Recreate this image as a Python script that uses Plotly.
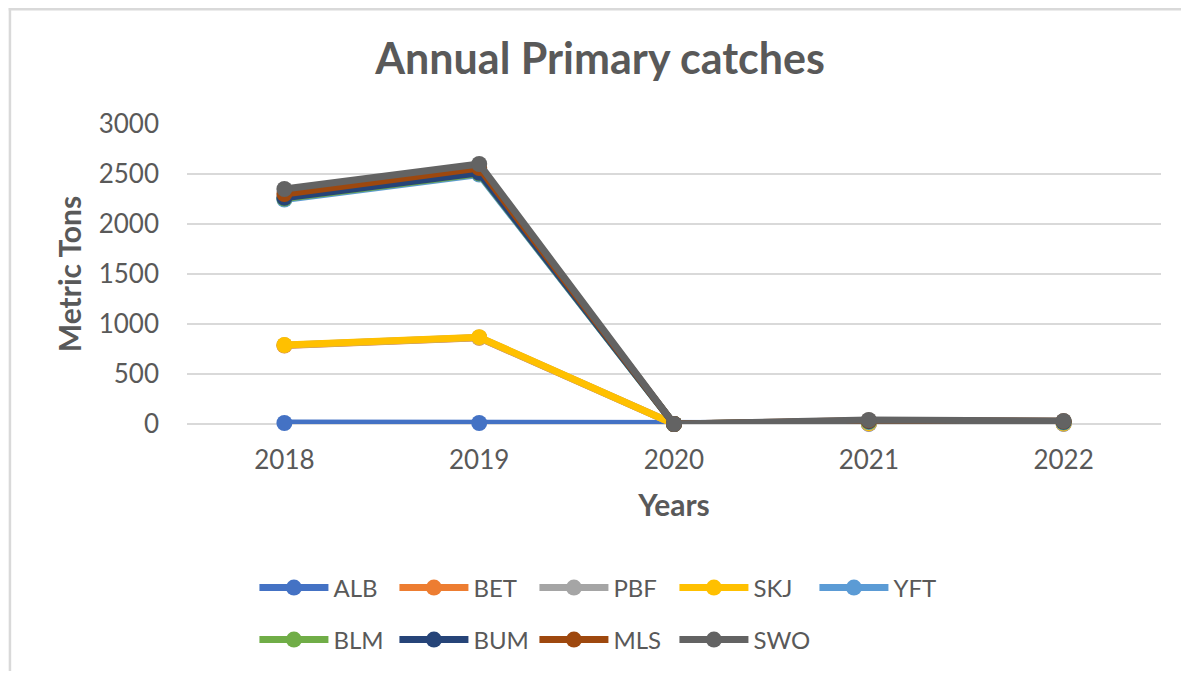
import plotly.graph_objects as go

years = ["2018", "2019", "2020", "2021", "2022"]
series_names = ["ALB", "BET", "PBF", "SKJ", "YFT", "BLM", "BUM", "MLS", "SWO"]
ALB = [10, 10, 0, 2, 2]
BET = [785, 862, 0, 5, 4]
PBF = [788, 865, 0, 5, 4]
SKJ = [790, 868, 0, 8, 6]
YFT = [2245, 2495, 0, 20, 15]
BLM = [2255, 2505, 0, 25, 20]
BUM = [2262, 2512, 0, 28, 22]
MLS = [2300, 2560, 0, 35, 28]
SWO = [2350, 2600, 0, 40, 30]
values = [ALB, BET, PBF, SKJ, YFT, BLM, BUM, MLS, SWO]
colors = ["#4472C4", "#ED7D31", "#A5A5A5", "#FFC000", "#5B9BD5",
          "#70AD47", "#264478", "#9E480E", "#636363"]

FONT = "Lato"
GRAY = "#595959"

fig = go.Figure()
for i, (name, vals, col) in enumerate(zip(series_names, values, colors)):
    fig.add_trace(go.Scatter(
        x=years, y=vals, name=name, mode="lines+markers",
        line=dict(color=col, width=7),
        marker=dict(color=col, size=16),
        cliponaxis=False,
        legend="legend" if i < 5 else "legend2",
    ))

# page has an 8px body margin; keep the figure inside the viewport (no scrollbars)
OFF = 8
VW, VH = 1189, 679
W, H = VW - 2 * OFF, VH - 2 * OFF
plot_left, plot_right, plot_top, plot_bottom = 186.5, 1161.5, 124, 424
L = plot_left - OFF
T = plot_top - OFF
R = W - (plot_right - OFF)
B = H - (plot_bottom - OFF)
pw, ph = plot_right - plot_left, plot_bottom - plot_top

def px_x(p):
    return (p - plot_left) / pw

def px_y(p):
    return (plot_bottom - p) / ph

legend_common = dict(
    orientation="h", xanchor="left", yanchor="middle",
    font=dict(family=FONT, size=24, color=GRAY),
    entrywidth=56, itemwidth=69, bgcolor="rgba(0,0,0,0)",
    traceorder="normal",
)

border = dict(color="#D9D9D9", width=2.5)

fig.update_layout(
    width=W, height=H,
    margin=dict(l=L, r=R, t=T, b=B, autoexpand=False),
    paper_bgcolor="white", plot_bgcolor="white",
    title=dict(text="<b>Annual Primary catches</b>", xref="paper", x=px_x(600), xanchor="center",
               y=1 - (59 - OFF) / H, yanchor="middle", yref="container",
               font=dict(family=FONT, size=43, color=GRAY)),
    xaxis=dict(
        type="category", range=[-0.5, 4.5], showgrid=False,
        showline=False, zeroline=False,
        tickfont=dict(family=FONT, size=26, color=GRAY),
        ticks="", ticklabelstandoff=18,
        title=dict(text="<b>Years</b>", font=dict(family=FONT, size=30, color=GRAY),
                   standoff=20),
    ),
    yaxis=dict(
        range=[0, 3000], dtick=500, showgrid=True, gridcolor="#D9D9D9", gridwidth=1.5,
        zeroline=True, zerolinecolor="#D9D9D9", zerolinewidth=1.5,
        showline=False,
        tickfont=dict(family=FONT, size=26, color=GRAY),
        ticks="", ticklabelstandoff=27,
        title=dict(text="<b>Metric Tons</b>", font=dict(family=FONT, size=30, color=GRAY),
                   standoff=8),
    ),
    legend=dict(x=px_x(254), y=px_y(588), **legend_common),
    legend2=dict(x=px_x(254), y=px_y(640), **legend_common),
    shapes=[
        dict(type="line", xref="paper", yref="paper",
             x0=px_x(OFF + 1.25), x1=px_x(OFF + 1.25), y0=px_y(700), y1=px_y(OFF),
             line=border, layer="below"),
        dict(type="line", xref="paper", yref="paper",
             x0=px_x(OFF), x1=px_x(1250), y0=px_y(OFF + 1.25), y1=px_y(OFF + 1.25),
             line=border, layer="below"),
    ],
)

fig.write_html("out.html")
